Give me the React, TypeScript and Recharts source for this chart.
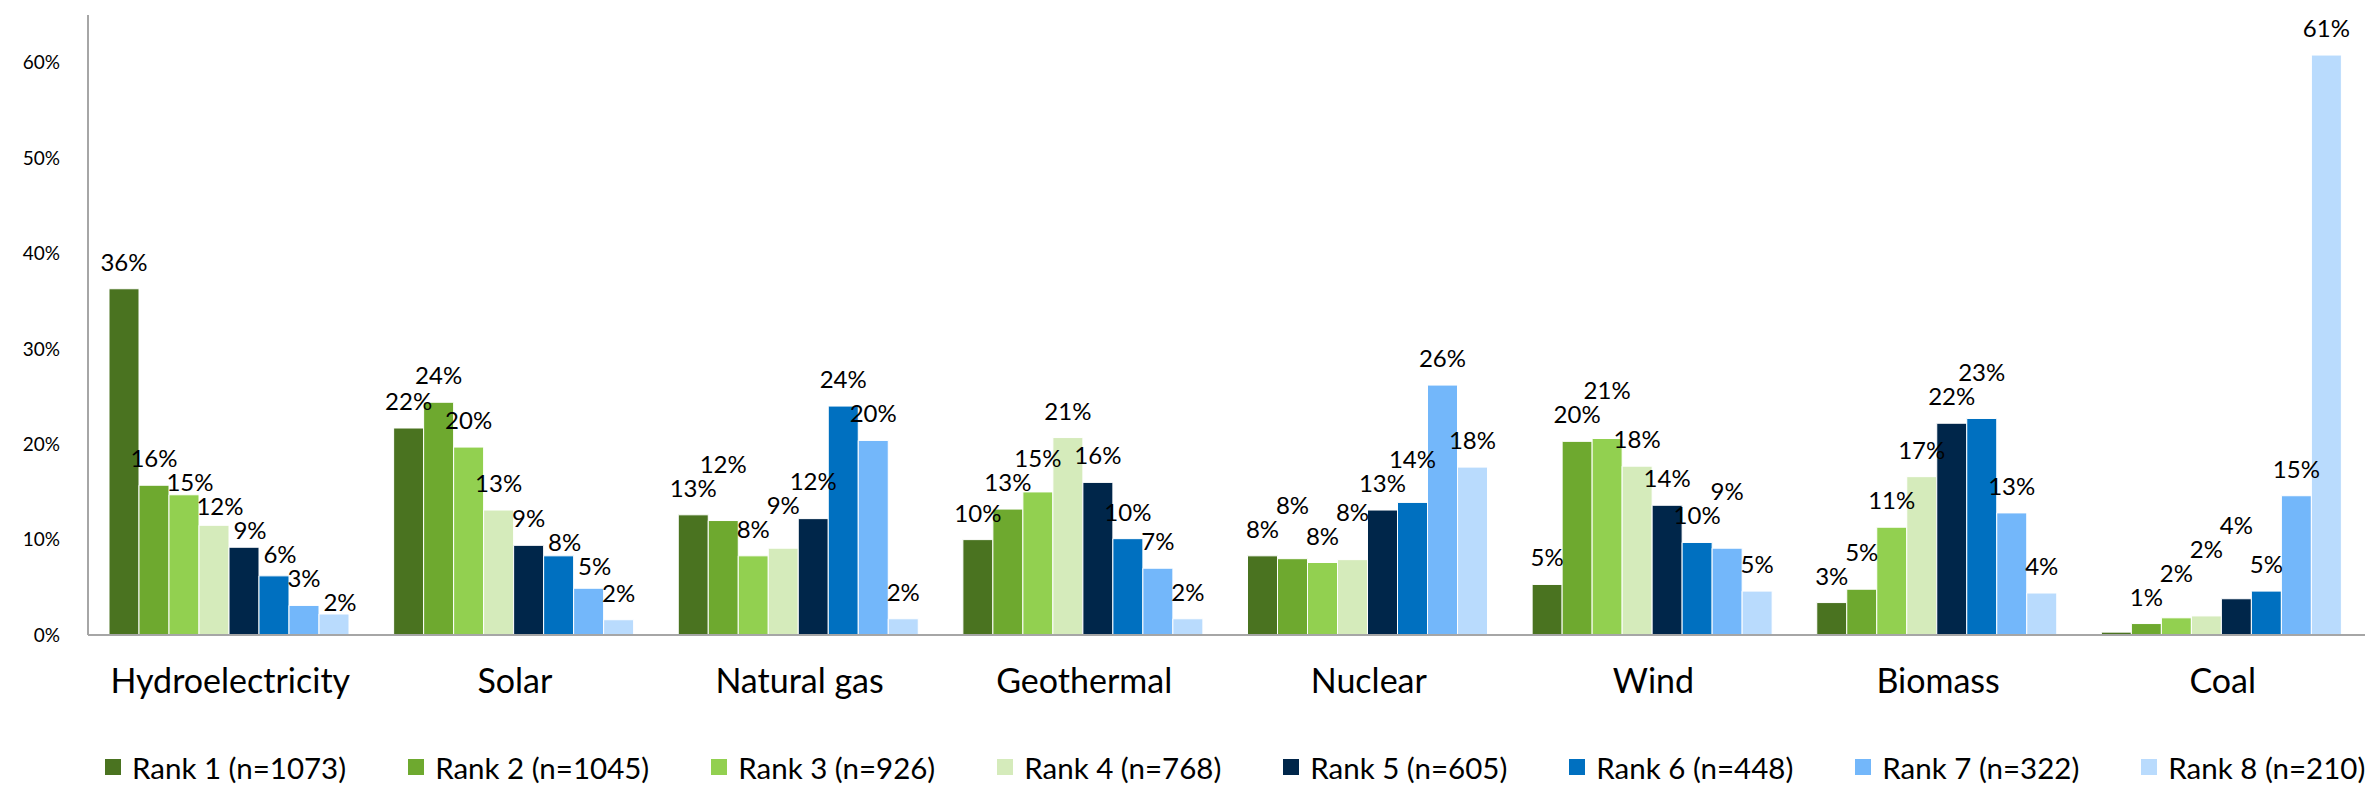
import React from "react";
import { BarChart, Bar, XAxis, YAxis, Legend, LabelList } from "recharts";

// energy sources along the x axis
const categories = [
  "Hydroelectricity",
  "Solar",
  "Natural gas",
  "Geothermal",
  "Nuclear",
  "Wind",
  "Biomass",
  "Coal",
];

// share of respondents (%) giving each rank, per source
const rank1 = [36.3, 21.7, 12.6, 10.0, 8.3, 5.3, 3.4, 0.3];
const rank2 = [15.7, 24.4, 12.0, 13.2, 8.0, 20.3, 4.8, 1.2];
const rank3 = [14.7, 19.7, 8.3, 15.0, 7.6, 20.6, 11.3, 1.8];
const rank4 = [11.5, 13.1, 9.1, 20.7, 7.9, 17.7, 16.6, 2.0];
const rank5 = [9.2, 9.4, 12.2, 16.0, 13.1, 13.6, 22.2, 3.8];
const rank6 = [6.2, 8.3, 24.0, 10.1, 13.9, 9.7, 22.7, 4.6];
const rank7 = [3.1, 4.9, 20.4, 7.0, 26.2, 9.1, 12.8, 14.6];
const rank8 = [2.2, 1.6, 1.7, 1.7, 17.6, 4.6, 4.4, 60.8];

const rankNames = [
  "Rank 1 (n=1073)",
  "Rank 2 (n=1045)",
  "Rank 3 (n=926)",
  "Rank 4 (n=768)",
  "Rank 5 (n=605)",
  "Rank 6 (n=448)",
  "Rank 7 (n=322)",
  "Rank 8 (n=210)",
];

const yTicks = [0, 10, 20, 30, 40, 50, 60];

const ranks = [rank1, rank2, rank3, rank4, rank5, rank6, rank7, rank8];
const colors = [
  "#4a7320",
  "#6ea92f",
  "#92d050",
  "#d5ebbb",
  "#00264a",
  "#0070c0",
  "#73b7fa",
  "#b9dbfd",
];

const data = categories.map((name, i) => {
  const row: Record<string, string | number> = { name };
  ranks.forEach((r, k) => {
    row[`r${k + 1}`] = r[i];
  });
  return row;
});

const FONT = "Lato, 'Open Sans', sans-serif";
const LABEL_FS = 24;
const LABEL_OFF = 18; // baseline gap above bar top
const LABEL_H = 24; // vertical room one label needs

const fmt = (v: number) => (v < 0.5 ? "" : `${Math.round(v)}%`);

// Excel-ish label nudging: when two neighbour labels collide, drop the
// lower one under its neighbour if there is room, otherwise lift it.
function placeLabels(i: number, base: number, scale: number) {
  const out: { bottom: number; dx: number }[] = [];
  let prev: { bottom: number; v: number } | null = null;
  ranks.forEach((r, k) => {
    const v = r[i];
    const top = base - v * scale;
    let bottom = top - LABEL_OFF;
    let dx = 0;
    if (!fmt(v)) {
      out[k] = { bottom, dx };
      prev = null;
      return;
    }
    if (prev && Math.abs(bottom - prev.bottom) < LABEL_H) {
      if (v <= prev.v && prev.bottom + LABEL_H <= top - 2) {
        bottom = prev.bottom + LABEL_H;
        dx = 6;
      } else {
        bottom = Math.min(bottom, prev.bottom - LABEL_H);
      }
    }
    out[k] = { bottom, dx };
    prev = { bottom, v };
  });
  return out;
}

const makeLabel = (k: number) => (props: any) => {
  const { x, y, width, height, index } = props;
  const v = ranks[k][index];
  const text = fmt(v);
  if (!text || !height) return null;
  const base = Number(y) + Number(height);
  const scale = Number(height) / v;
  const pos = placeLabels(index, base, scale)[k];
  return (
    <text
      x={Number(x) + Number(width) / 2 + pos.dx}
      y={pos.bottom}
      textAnchor="middle"
      fontSize={LABEL_FS}
      fontFamily={FONT}
      fill="#000"
    >
      {text}
    </text>
  );
};

function LegendRow() {
  return (
    <div
      style={{
        display: "flex",
        alignItems: "center",
        height: 52,
        paddingLeft: 105,
        gap: 62,
        fontFamily: FONT,
        fontSize: 29.5,
        color: "#000",
      }}
    >
      {rankNames.map((n, i) => (
        <div key={n} style={{ display: "flex", alignItems: "center", whiteSpace: "nowrap" }}>
          <span
            style={{
              display: "inline-block",
              width: 16,
              height: 16,
              background: colors[i],
              marginRight: 11,
            }}
          />
          {n}
        </div>
      ))}
    </div>
  );
}

export default function App() {
  return (
    <div style={{ width: 2369, height: 793, background: "#fff" }}>
      <style>{`body{margin:0}`}</style>
      <BarChart
        width={2369}
        height={793}
        data={data}
        margin={{ top: 15, right: 4, left: 0, bottom: 0 }}
        barCategoryGap={21}
        barGap={0}
      >
        <XAxis
          dataKey="name"
          height={106}
          axisLine={{ stroke: "#a6a6a6", strokeWidth: 2 }}
          tickLine={false}
          tickMargin={28}
          tick={{ fontSize: 34, fill: "#000", fontFamily: FONT }}
        />
        <YAxis
          width={88}
          domain={[0, 65]}
          ticks={yTicks}
          axisLine={{ stroke: "#a6a6a6", strokeWidth: 2 }}
          tickLine={false}
          tickMargin={22}
          tickFormatter={(v) => `${v}%`}
          tick={{ fontSize: 19, fill: "#000", fontFamily: FONT }}
        />
        <Legend verticalAlign="bottom" content={() => <LegendRow />} wrapperStyle={{ left: 0, width: 2369 }} />
        {ranks.map((_, k) => (
          <Bar
            key={k}
            dataKey={`r${k + 1}`}
            name={rankNames[k]}
            fill={colors[k]}
            stroke="#ffffff"
            strokeWidth={1}
            isAnimationActive={false}
          >
            <LabelList dataKey={`r${k + 1}`} content={makeLabel(k)} />
          </Bar>
        ))}
      </BarChart>
    </div>
  );
}
